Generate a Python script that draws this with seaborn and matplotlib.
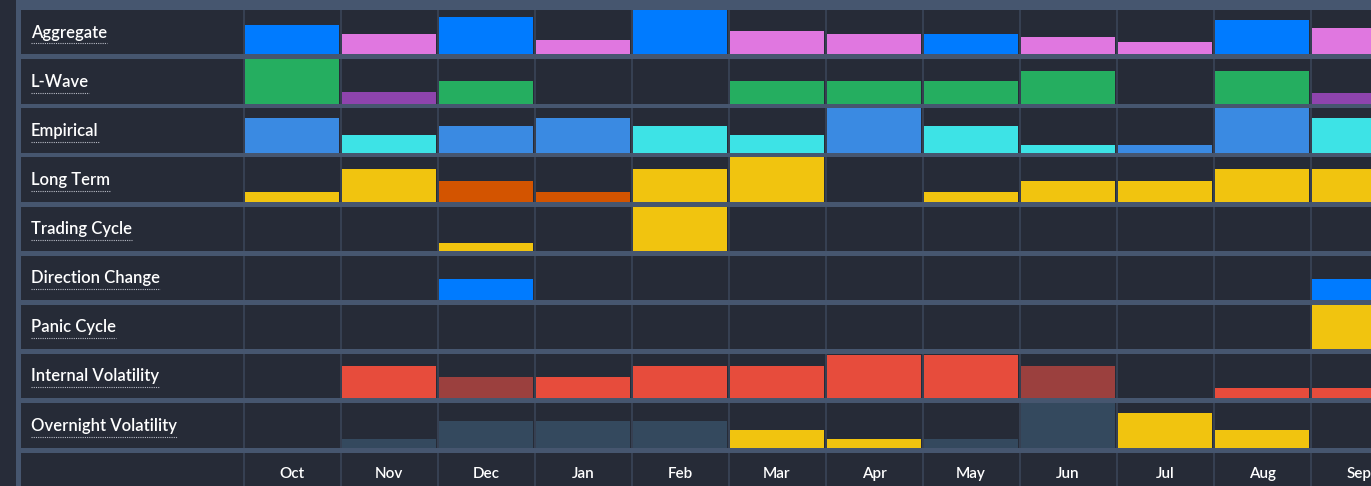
import matplotlib
matplotlib.use("Agg")
import matplotlib.pyplot as plt
import seaborn as sns
import pandas as pd
from matplotlib.patches import Rectangle
from matplotlib.lines import Line2D

sns.set_style("dark")
plt.rcParams['font.family'] = ['Lato', 'DejaVu Sans']

# ---------------- data ----------------
months = ["Oct", "Nov", "Dec", "Jan", "Feb", "Mar", "Apr", "May", "Jun", "Jul", "Aug", "Sep"]
row_labels = ["Aggregate", "L-Wave", "Empirical", "Long Term", "Trading Cycle",
              "Direction Change", "Panic Cycle", "Internal Volatility", "Overnight Volatility"]

aggregate_vals = [0.66, 0.45, 0.84, 0.32, 1.0, 0.52, 0.45, 0.45, 0.39, 0.27, 0.78, 0.59]
aggregate_cols = ["blue", "pink", "blue", "pink", "blue", "pink", "pink", "blue", "pink", "pink", "blue", "pink"]

lwave_vals = [1.0, 0.25, 0.5, 0, 0, 0.5, 0.5, 0.5, 0.74, 0, 0.74, 0.24]
lwave_cols = ["green", "purple", "green", None, None, "green", "green", "green", "green", None, "green", "purple"]

empirical_vals = [0.77, 0.39, 0.59, 0.77, 0.59, 0.39, 1.0, 0.59, 0.17, 0.17, 1.0, 0.77]
empirical_cols = ["ltblue", "cyan", "ltblue", "ltblue", "cyan", "cyan", "ltblue", "cyan", "cyan", "ltblue", "ltblue", "cyan"]

longterm_vals = [0.23, 0.73, 0.48, 0.23, 0.73, 1.0, 0, 0.23, 0.48, 0.48, 0.73, 0.73]
longterm_cols = ["yellow", "yellow", "orange", "orange", "yellow", "yellow", None, "yellow", "yellow", "yellow", "yellow", "yellow"]

trading_vals = [0, 0, 0.18, 0, 1.0, 0, 0, 0, 0, 0, 0, 0]
trading_cols = [None, None, "yellow", None, "yellow", None, None, None, None, None, None, None]

direction_vals = [0, 0, 0.48, 0, 0, 0, 0, 0, 0, 0, 0, 0.48]
direction_cols = [None, None, "blue", None, None, None, None, None, None, None, None, "blue"]

panic_vals = [0, 0, 0, 0, 0, 0, 0, 0, 0, 0, 0, 1.0]
panic_cols = [None, None, None, None, None, None, None, None, None, None, None, "yellow"]

internal_vals = [0, 0.73, 0.48, 0.48, 0.73, 0.73, 0.97, 0.97, 0.73, 0, 0.23, 0.23]
internal_cols = [None, "red", "darkred", "red", "red", "red", "red", "red", "darkred", None, "red", "red"]

overnight_vals = [0, 0.18, 0.6, 0.6, 0.6, 0.39, 0.18, 0.18, 1.0, 0.78, 0.39, 0]
overnight_cols = [None, "slate", "slate", "slate", "slate", "yellow", "yellow", "slate", "slate", "yellow", "yellow", None]

palette = {
    "blue": "#007bff", "pink": "#e077e0", "green": "#25ae60", "purple": "#8e44ad",
    "ltblue": "#3a8ae2", "cyan": "#3de3e6", "yellow": "#f1c40f", "orange": "#d35400",
    "red": "#e74c3c", "darkred": "#9b403e", "slate": "#34495e",
}

rows_vals = [aggregate_vals, lwave_vals, empirical_vals, longterm_vals, trading_vals,
             direction_vals, panic_vals, internal_vals, overnight_vals]
rows_cols = [aggregate_cols, lwave_cols, empirical_cols, longterm_cols, trading_cols,
             direction_cols, panic_cols, internal_cols, overnight_cols]

# ---------------- style ----------------
W, H = 1371, 486
CELL = "#262b37"
SEP = "#46566f"
STRIP = "#272c39"
VLINE = "#3a4558"

fig = plt.figure(figsize=(W / 100, H / 100), dpi=100, facecolor=SEP)
fig.patches.append(Rectangle((0, 0), 16 / W, 1, transform=fig.transFigure,
                             facecolor=STRIP, edgecolor="none", zorder=0))

def fx(px):
    return px / W

def fy(py):
    return 1 - py / H

LABEL_L, LABEL_R = 21, 243
DATA_L = 242.5
COLW = 97
xlim = (-0.5 - 1 / COLW, -0.5 + (W - DATA_L - 1) / COLW)

ROW_TOP0, PITCH, ROW_H = 10, 49.125, 44.5

renderer = fig.canvas.get_renderer()

def make_data_axes(top, height):
    ax = fig.add_axes([fx(DATA_L), fy(top + height), fx(W - DATA_L), height / H])
    ax.set_facecolor(CELL)
    for s in ax.spines.values():
        s.set_visible(False)
    ax.grid(False)
    return ax

def make_label_axes(top, height):
    ax = fig.add_axes([fx(LABEL_L), fy(top + height), fx(LABEL_R - LABEL_L), height / H])
    ax.set_facecolor(CELL)
    ax.set_xticks([]); ax.set_yticks([])
    for s in ax.spines.values():
        s.set_visible(False)
    return ax

for i, (label, vals, cols) in enumerate(zip(row_labels, rows_vals, rows_cols)):
    top = ROW_TOP0 + i * PITCH
    lax = make_label_axes(top, ROW_H)
    ax = make_data_axes(top, ROW_H)

    df = pd.DataFrame({"month": months, "value": vals, "kind": cols})
    df = df[df["kind"].notna() & (df["value"] > 0)]
    kinds = list(dict.fromkeys(df["kind"]))
    sns.barplot(data=df, x="month", y="value", hue="kind", order=months,
                hue_order=kinds, palette={k: palette[k] for k in kinds},
                dodge=False, width=0.975, saturation=1, legend=False, ax=ax,
                linewidth=0, zorder=2)
    ax.set_xlim(*xlim)
    ax.set_ylim(0, 1)
    ax.set_xticks([]); ax.set_yticks([])
    ax.set_xlabel(""); ax.set_ylabel("")
    for k in range(-1, 12):
        ax.axvline(k + 0.5, color=VLINE, lw=1.2, zorder=3)

    t = fig.text(fx(31), fy(top + 27.6), label, color="#ffffff", fontsize=12,
                 fontweight="semibold", ha="left", va="baseline")
    bb = t.get_window_extent(renderer=renderer)
    uy = fy(top + 33.5)
    fig.add_artist(Line2D([fx(bb.x0), fx(bb.x1)], [uy, uy], transform=fig.transFigure,
                          color="#b8bcc6", lw=0.8, linestyle=(0, (1, 1))))

# axis row
atop = 453
lax = make_label_axes(atop, H - atop + 5)
ax = make_data_axes(atop, H - atop + 5)
ax.set_xlim(*xlim)
ax.set_ylim(0, 1)
ax.set_xticks([]); ax.set_yticks([])
for k in range(-1, 12):
    ax.axvline(k + 0.5, color=VLINE, lw=1.2, zorder=3)
for j, m in enumerate(months):
    ax.text(j, 1 - (478 - atop) / (H - atop + 5), m, color="#ffffff", fontsize=11,
            fontweight="semibold", ha="center", va="baseline")

fig.savefig("out.png", dpi=100, facecolor=SEP)
